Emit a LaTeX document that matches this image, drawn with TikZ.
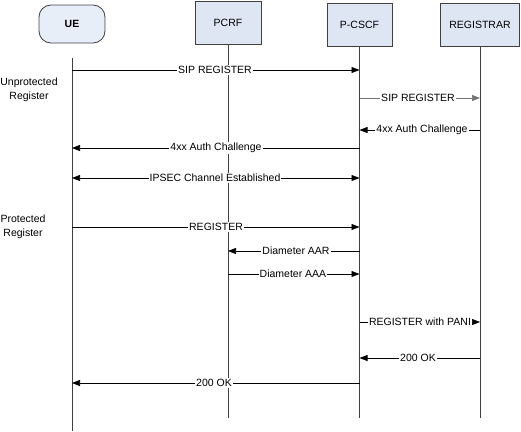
\documentclass[tikz,border=0pt]{standalone}
\usepackage{fontspec}
\setmainfont{Liberation Sans}
\usetikzlibrary{arrows.meta}
\definecolor{boxblue}{RGB}{221,230,242}
\definecolor{ueblue}{RGB}{232,238,248}
\begin{document}
\begin{tikzpicture}[x=1pt,y=-1pt,
  font=\fontsize{10.5}{12}\selectfont,
  actor/.style={draw=black!75, fill=boxblue, minimum height=43pt, inner sep=0pt, line width=0.8pt},
  life/.style={draw=black!75, line width=0.9pt},
  msg/.style={-{Triangle[length=8pt,width=6pt]}, line width=0.7pt, draw=black},
  bmsg/.style={{Triangle[length=8pt,width=6pt]}-{Triangle[length=8pt,width=6pt]}, line width=0.7pt, draw=black},
  lbl/.style={fill=white, inner sep=1pt},
  side/.style={align=center, inner sep=0pt, font=\fontsize{10.5}{13.5}\selectfont}
]
\useasboundingbox (0,0) rectangle (521,431);
\fill[white] (0,0) rectangle (521,431);

% actors
\node[actor, fill=ueblue, rounded corners=12pt, minimum width=66pt, minimum height=38pt, font=\fontsize{10.5}{12}\selectfont\bfseries] (ue) at (72,24) {UE};
\node[actor, minimum width=66pt] (pcrf) at (228,22.5) {PCRF};
\node[actor, minimum width=65pt] (pcscf) at (359.5,24.5) {P-CSCF};
\node[actor, minimum width=79pt] (reg) at (480,24.5) {REGISTRAR};

% lifelines
\coordinate (ueT) at (72,58);
\coordinate (ueB) at (72,431);
\coordinate (pcrfB) at (228,418);
\coordinate (pcscfB) at (359.5,418);
\coordinate (regB) at (480,418);
\draw[life] (ueT) -- (ueB);
\draw[life] (pcrf.south) -- (pcrfB);
\draw[life] (pcscf.south) -- (pcscfB);
\draw[life] (reg.south) -- (regB);

% side labels
\node[side] (unprot) at (29,90) {Unprotected\\Register};
\node[side] (prot) at (23,227) {Protected\\Register};

% messages
\draw[msg] (ueB |- 0,70) -- (pcscfB |- 0,70);
\node[lbl] (l1) at (215,70) {SIP REGISTER};

\draw[msg, draw=black!55] (pcscfB |- 0,98) -- (regB |- 0,98);
\node[lbl] (l2) at (418,98) {SIP REGISTER};

\draw[msg] (regB |- 0,130) -- (pcscfB |- 0,130);
\node[lbl] (l3) at (422,130) {4xx Auth Challenge};

\draw[msg] (pcscfB |- 0,148) -- (ueB |- 0,148);
\node[lbl] (l4) at (216,148) {4xx Auth Challenge};

\draw[bmsg] (ueB |- 0,178) -- (pcscfB |- 0,178);
\node[lbl] (l5) at (215,178) {IPSEC Channel Established};

\draw[msg] (ueB |- 0,227) -- (pcscfB |- 0,227);
\node[lbl] (l6) at (216,227) {REGISTER};

\draw[msg] (pcscfB |- 0,251) -- (pcrfB |- 0,251);
\node[lbl] (l7) at (296,251) {Diameter AAR};

\draw[msg] (pcrfB |- 0,274) -- (pcscfB |- 0,274);
\node[lbl] (l8) at (293,274) {Diameter AAA};

\draw[msg] (pcscfB |- 0,322) -- (regB |- 0,322);
\node[lbl] (l9) at (420,322) {REGISTER with PANI};

\draw[msg] (regB |- 0,358) -- (pcscfB |- 0,358);
\node[lbl] (l10) at (418,358) {200 OK};

\draw[msg] (pcscfB |- 0,383) -- (ueB |- 0,383);
\node[lbl] (l11) at (214,383) {200 OK};
\end{tikzpicture}
\end{document}
